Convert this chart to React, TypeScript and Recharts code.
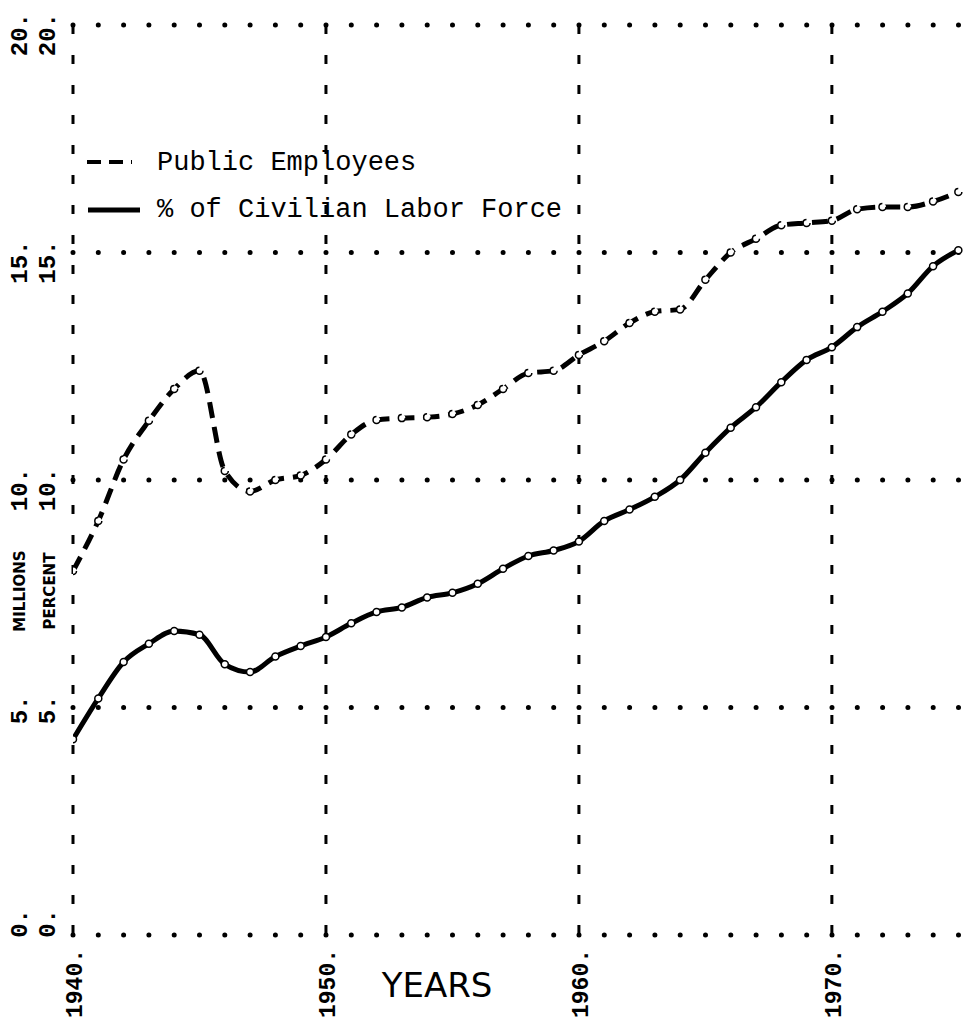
import React from 'react';
import { LineChart, Line, XAxis, YAxis, CartesianGrid, Legend, Label } from 'recharts';

const years = [
  1940, 1941, 1942, 1943, 1944, 1945, 1946, 1947, 1948, 1949,
  1950, 1951, 1952, 1953, 1954, 1955, 1956, 1957, 1958, 1959,
  1960, 1961, 1962, 1963, 1964, 1965, 1966, 1967, 1968, 1969,
  1970, 1971, 1972, 1973, 1974, 1975,
];

// millions
const publicEmployees = [
  8.0, 9.1, 10.45, 11.3, 12.0, 12.4, 10.2, 9.75, 10.0, 10.1,
  10.45, 11.0, 11.32, 11.36, 11.38, 11.45, 11.65, 12.0, 12.35, 12.4,
  12.75, 13.05, 13.45, 13.7, 13.75, 14.4, 15.0, 15.3, 15.6, 15.65,
  15.7, 15.95, 16.0, 16.0, 16.12, 16.33,
];

// percent
const pctLaborForce = [
  4.3, 5.2, 6.0, 6.4, 6.68, 6.6, 5.95, 5.78, 6.12, 6.35,
  6.55, 6.85, 7.1, 7.2, 7.42, 7.52, 7.72, 8.05, 8.33, 8.45,
  8.65, 9.1, 9.35, 9.63, 10.0, 10.6, 11.15, 11.6, 12.15, 12.64,
  12.92, 13.36, 13.7, 14.1, 14.7, 15.05,
];

const xTicks = [1940, 1950, 1960, 1970];
const yTicks = [0, 5, 10, 15, 20];

const data = years.map((year, i) => ({
  year,
  publicEmployees: publicEmployees[i],
  pctLaborForce: pctLaborForce[i],
}));

const typewriter = '"Liberation Mono", "Courier New", monospace';
const hand = '"DejaVu Sans", sans-serif';

const XTick = (props: any) => {
  const { x, payload } = props;
  const tx = x + 9;
  const ty = 949;
  return (
    <text
      x={tx}
      y={ty}
      transform={`rotate(-90 ${tx} ${ty})`}
      textAnchor="end"
      fontFamily={typewriter}
      fontSize={23}
      fontWeight="bold"
      fill="#000"
    >
      {`${payload.value}.`}
    </text>
  );
};

const YTick = (props: any) => {
  const { y, payload } = props;
  const end = payload.value === 0 ? y - 26 : y - 12;
  return (
    <g>
      {[27, 55].map((cx) => (
        <text
          key={cx}
          x={cx}
          y={end}
          transform={`rotate(-90 ${cx} ${end})`}
          textAnchor="end"
          fontFamily={typewriter}
          fontSize={24}
          fontWeight="bold"
          fill="#000"
        >
          {`${payload.value}.`}
        </text>
      ))}
    </g>
  );
};

const renderLegend = () => (
  <svg width={500} height={90}>
    <line x1={7} y1={22} x2={52} y2={22} stroke="#000" strokeWidth={4} strokeDasharray="14 8" />
    <text x={77} y={30} fontFamily={typewriter} fontSize={27} fill="#000">
      Public Employees
    </text>
    <line x1={8} y1={70} x2={60} y2={70} stroke="#000" strokeWidth={5} />
    <text x={77} y={77} fontFamily={typewriter} fontSize={27} fill="#000">
      % of Civilian Labor Force
    </text>
  </svg>
);

const openDot = { r: 3.5, fill: '#fff', stroke: '#000', strokeWidth: 1.5 };

export default function App() {
  return (
    <div style={{ margin: '-8px 0 0 -8px', width: 971, height: 1022, background: '#fff' }}>
      <LineChart
        width={971}
        height={1022}
        data={data}
        margin={{ top: 25, right: 0, bottom: 0, left: 0 }}
      >
        <CartesianGrid
          vertical={false}
          stroke="#000"
          strokeWidth={5}
          strokeLinecap="round"
          strokeDasharray="0 25.3"
        />
        <CartesianGrid horizontal={false} stroke="#000" strokeWidth={3} strokeDasharray="9 21" />
        <XAxis
          dataKey="year"
          type="number"
          domain={[1940, 1975.5]}
          ticks={xTicks}
          interval={0}
          allowDataOverflow
          axisLine={false}
          tickLine={false}
          height={87}
          tick={XTick}
        >
          <Label
            content={() => (
              <text x={437} y={997} textAnchor="middle" fontFamily={hand} fontSize={34} fill="#000">
                YEARS
              </text>
            )}
          />
        </XAxis>
        <YAxis
          domain={[0, 20]}
          ticks={yTicks}
          interval={0}
          width={73}
          axisLine={false}
          tickLine={false}
          tick={YTick}
        >
          <Label
            content={() => (
              <g fontFamily={hand} fontSize={15} fontWeight="bold" fill="#000">
                <text x={25} y={591} transform="rotate(-90 25 591)" textAnchor="middle">
                  MILLIONS
                </text>
                <text x={55} y={591} transform="rotate(-90 55 591)" textAnchor="middle">
                  PERCENT
                </text>
              </g>
            )}
          />
        </YAxis>
        <Legend
          layout="vertical"
          align="center"
          verticalAlign="middle"
          wrapperStyle={{ left: 80, top: 140, width: 500, height: 90 }}
          content={renderLegend}
        />
        <Line
          type="monotone"
          dataKey="publicEmployees"
          name="Public Employees"
          stroke="#000"
          strokeWidth={5}
          strokeDasharray="16 9"
          dot={openDot}
          isAnimationActive={false}
        />
        <Line
          type="monotone"
          dataKey="pctLaborForce"
          name="% of Civilian Labor Force"
          stroke="#000"
          strokeWidth={5}
          dot={openDot}
          isAnimationActive={false}
        />
      </LineChart>
    </div>
  );
}
